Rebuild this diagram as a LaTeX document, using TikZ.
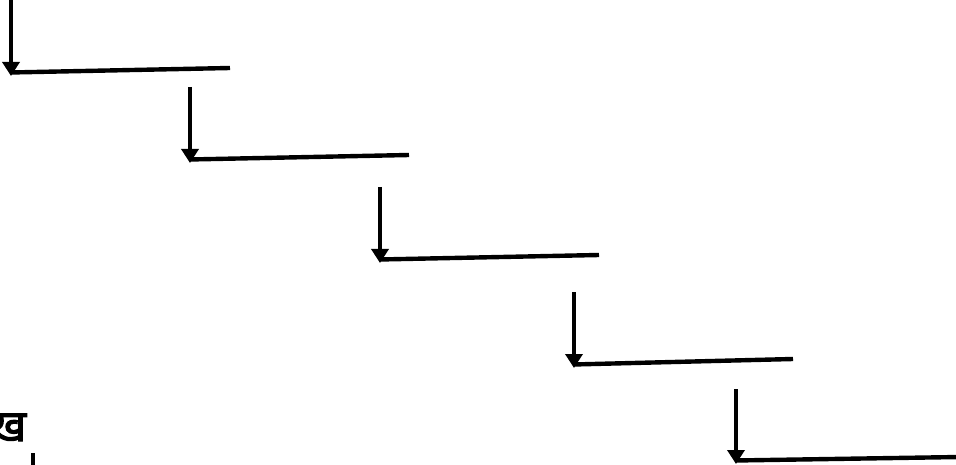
\documentclass[tikz,border=0pt]{standalone}
\usepackage{fontspec}
\usepackage{tikz}
\usetikzlibrary{arrows.meta, positioning}
\newfontfamily\devfont[Script=Devanagari, FakeBold=2.5]{Noto Sans}
\definecolor{stepcolor}{RGB}{0, 0, 0}

\begin{document}
\begin{tikzpicture}[x=1pt, y=-1pt,
    steparrow/.style={line width=4.4pt, stepcolor, -{Triangle[width=17pt, length=14pt]}},
    stepline/.style={line width=4.4pt, stepcolor}]
    % Canvas
    \useasboundingbox (0, 0) rectangle (956, 465);

    % Steps: drop arrow, then run to the right
    \foreach \i/\x/\yt/\yb/\xe/\ye in {1/11/-4/76/230/68, 2/190/87/163/409/155, 3/380/187/263/599/255, 4/574/292/368/793/359, 5/736/389/464/960/457} {
        \coordinate (top\i) at (\x, \yt);
        \coordinate (tip\i) at (\x, \yb);
        \coordinate (run\i) at (\x-1, \yb-3.5);
        \coordinate (end\i) at (\xe, \ye);
        \draw[stepline] (run\i) -- (end\i);
        \draw[steparrow] (top\i) -- (tip\i);
    }

    % Letter at the lower left
    \node[font=\devfont\fontsize{44}{44}\selectfont, anchor=base west, inner sep=0pt] (kha) at (-10, 441) {ख};
    \coordinate (marktop) at (33, 453);
    \coordinate (markbot) at (33, 468);
    \draw[stepline] (marktop) -- (markbot);
\end{tikzpicture}
\end{document}
